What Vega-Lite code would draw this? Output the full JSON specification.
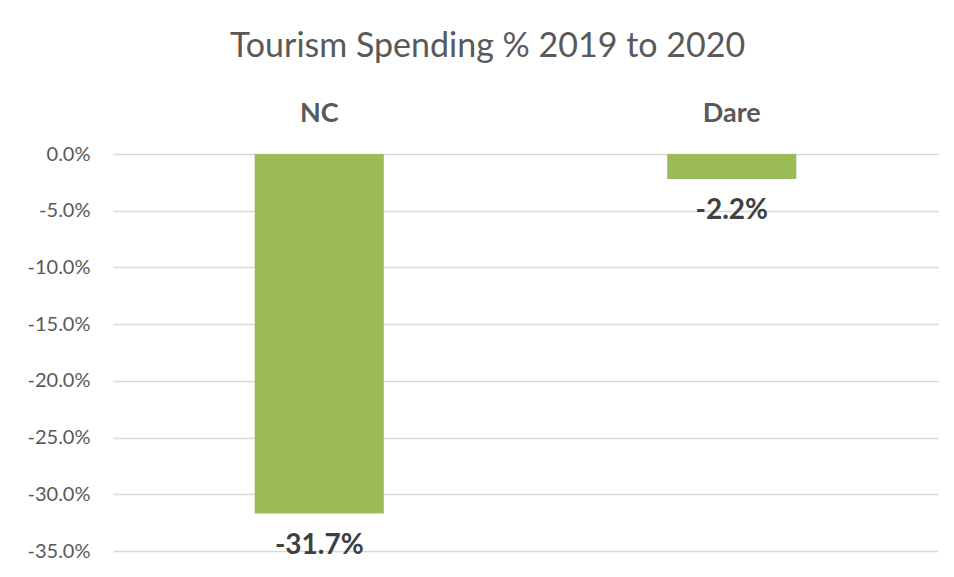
{
  "$schema": "https://vega.github.io/schema/vega-lite/v6.json",
  "width": 825,
  "height": 397,
  "autosize": "none",
  "padding": {"left": 113, "top": 154, "right": 16, "bottom": 26},
  "background": "white",
  "title": {
    "text": "Tourism Spending % 2019 to 2020",
    "font": "Lato",
    "fontSize": 34,
    "fontWeight": "normal",
    "color": "#595959",
    "anchor": "middle",
    "offset": 8,
    "dx": -38,
    "baseline": "alphabetic"
  },
  "data": {
    "values": [
      {"region": "NC", "change": -0.317, "label": "-31.7%"},
      {"region": "Dare", "change": -0.022, "label": "-2.2%"}
    ]
  },
  "config": {"view": {"stroke": null}},
  "encoding": {
    "x": {
      "field": "region",
      "type": "nominal",
      "sort": ["NC", "Dare"],
      "scale": {"paddingInner": 0, "paddingOuter": 0},
      "axis": {
        "orient": "top",
        "title": null,
        "domain": false,
        "ticks": false,
        "labelAngle": 0,
        "labelFont": "Lato",
        "labelFontSize": 27,
        "labelFontWeight": "bold",
        "labelColor": "#595959",
        "labelPadding": 27
      }
    }
  },
  "layer": [
    {
      "mark": {"type": "bar", "color": "#9BBB59", "width": {"band": 0.313}},
      "encoding": {
        "y": {
          "field": "change",
          "type": "quantitative",
          "scale": {"domain": [-0.35, 0], "nice": false},
          "axis": {
            "title": null,
            "format": ".1%",
            "labelExpr": "replace(datum.label, '\u2212', '-')",
            "values": [0, -0.05, -0.1, -0.15, -0.2, -0.25, -0.3, -0.35],
            "domain": false,
            "ticks": false,
            "labelFont": "Lato",
            "labelFontSize": 20,
            "labelColor": "#595959",
            "labelPadding": 23,
            "gridColor": "#D9D9D9",
            "gridWidth": 1.5
          }
        }
      }
    },
    {
      "mark": {
        "type": "text",
        "font": "Lato",
        "fontSize": 28,
        "fontWeight": "bold",
        "color": "#404040",
        "baseline": "top",
        "dy": 18
      },
      "encoding": {
        "y": {"field": "change", "type": "quantitative"},
        "text": {"field": "label"}
      }
    }
  ]
}
